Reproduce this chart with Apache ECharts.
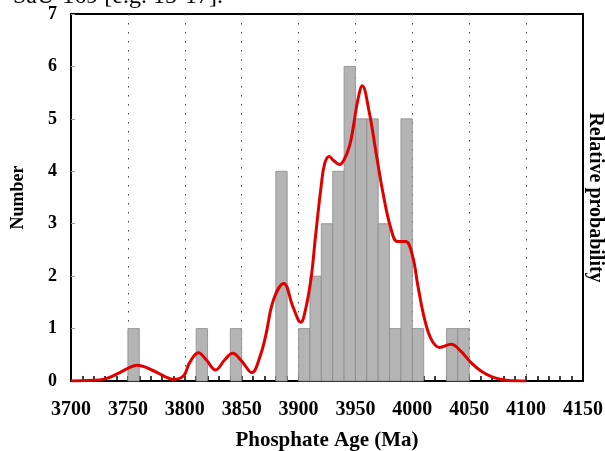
<!DOCTYPE html>
<html>
<head>
<meta charset="utf-8">
<script src="https://cdn.jsdelivr.net/npm/echarts@6/dist/echarts.min.js"></script>
<style>
  html, body { margin: 0; padding: 0; background: #fff; }
  #main { width: 605px; height: 451px; }
</style>
</head>
<body>
<div id="main"></div>
<script>
// histogram bins (left edge, 10 Ma wide) and counts
var binStart = [3750, 3810, 3840, 3880, 3900, 3910, 3920, 3930, 3940, 3950, 3960, 3970, 3980, 3990, 4000, 4030, 4040];
var binCount = [1, 1, 1, 4, 1, 2, 3, 4, 6, 5, 5, 3, 1, 5, 1, 1, 1];
var binWidth = 10;

// relative probability curve (in "Number" units)
var curveAge = [3700, 3715, 3730, 3742, 3750, 3758, 3771, 3783, 3790, 3799, 3804, 3812, 3819, 3827, 3835, 3842, 3850, 3859, 3866, 3871, 3878, 3887, 3895, 3902, 3906, 3911, 3915, 3920, 3923, 3927, 3931, 3936, 3940, 3945, 3948, 3952, 3956, 3962, 3968, 3974, 3981, 3987, 3994, 4000, 4005, 4011, 4017, 4024, 4034, 4043, 4052, 4061, 4070, 4081, 4090, 4100];
var curveProb = [0.0, 0.01, 0.04, 0.15, 0.24, 0.30, 0.21, 0.08, 0.03, 0.10, 0.34, 0.54, 0.40, 0.21, 0.40, 0.53, 0.38, 0.16, 0.46, 0.85, 1.55, 1.86, 1.42, 1.12, 1.35, 1.96, 2.78, 3.74, 4.15, 4.28, 4.20, 4.13, 4.22, 4.50, 4.83, 5.35, 5.63, 5.14, 4.37, 3.61, 2.92, 2.66, 2.66, 2.40, 1.80, 1.16, 0.78, 0.64, 0.70, 0.56, 0.34, 0.18, 0.08, 0.02, 0.005, 0.0];

var xMin = 3700, xMax = 4150, xStep = 50;
var yMin = 0, yMax = 7, yStep = 1;

var font = 'Liberation Serif';

var bars = binStart.map(function (s, i) { return [s, s + binWidth, binCount[i]]; });
var curve = curveAge.map(function (a, i) { return [a, curveProb[i]]; });

var myChart = echarts.init(document.getElementById('main'));
var option = {
  animation: false,
  backgroundColor: '#fff',
  graphic: [{
    type: 'text',
    left: 13,
    top: -15,
    style: {
      text: 'SaU-169 [e.g. 15-17].',
      font: '24px ' + font,
      fill: '#000'
    }
  }],
  grid: {
    left: 71, right: 22, top: 14, bottom: 70,
    outerBoundsMode: 'none',
    containLabel: false,
    show: true,
    borderColor: '#000',
    borderWidth: 2
  },
  xAxis: {
    type: 'value',
    min: xMin, max: xMax, interval: xStep,
    name: 'Phosphate Age (Ma)',
    nameLocation: 'middle',
    nameGap: 49,
    nameTextStyle: { fontFamily: font, fontWeight: 'bold', fontSize: 21, color: '#000' },
    axisLine: { show: true, lineStyle: { color: '#000', width: 2 } },
    axisTick: { show: true, inside: true, length: 5, lineStyle: { color: '#000', width: 1.5 } },
    minorTick: { show: true, splitNumber: 5, length: 5, lineStyle: { color: '#000', width: 1.5 } },
    axisLabel: {
      margin: 19, fontFamily: font, fontWeight: 'bold', fontSize: 20, color: '#000',
      formatter: function (v) { return String(v); }
    },
    splitLine: { show: true, lineStyle: { color: '#444', width: 1, type: [1.5, 7.5] } }
  },
  yAxis: [{
    type: 'value',
    min: yMin, max: yMax, interval: yStep,
    name: 'Number',
    nameLocation: 'middle',
    nameGap: 44,
    nameRotate: 90,
    nameTextStyle: { fontFamily: font, fontWeight: 'bold', fontSize: 18, color: '#000' },
    axisLine: { show: true, lineStyle: { color: '#000', width: 2 } },
    axisTick: { show: true, inside: true, length: 4, lineStyle: { color: '#999', width: 1 } },
    axisLabel: { margin: 14, fontFamily: font, fontWeight: 'bold', fontSize: 18, color: '#000' },
    splitLine: { show: false }
  }, {
    type: 'value',
    position: 'right',
    min: yMin, max: yMax, interval: yStep,
    name: 'Relative probability',
    nameLocation: 'middle',
    nameGap: 2,
    nameRotate: -90,
    nameTextStyle: { fontFamily: font, fontWeight: 'bold', fontSize: 20, color: '#000' },
    axisLine: { show: true, lineStyle: { color: '#000', width: 2 } },
    axisTick: { show: false },
    axisLabel: { show: false },
    splitLine: { show: false }
  }],
  series: [{
    name: 'Number',
    type: 'custom',
    data: bars,
    encode: { x: [0, 1], y: 2 },
    renderItem: function (params, api) {
      var p0 = api.coord([api.value(0), 0]);
      var p1 = api.coord([api.value(1), api.value(2)]);
      return {
        type: 'rect',
        shape: { x: p0[0], y: p1[1], width: p1[0] - p0[0], height: p0[1] - p1[1] },
        style: { fill: '#b4b4b4', stroke: '#8a8a8a', lineWidth: 0.8 }
      };
    },
    z: 2
  }, {
    name: 'Relative probability',
    type: 'line',
    yAxisIndex: 1,
    data: curve,
    smooth: 0.4,
    showSymbol: false,
    lineStyle: { color: '#e00000', width: 3 },
    z: 3
  }]
};
myChart.setOption(option);
</script>
</body>
</html>
